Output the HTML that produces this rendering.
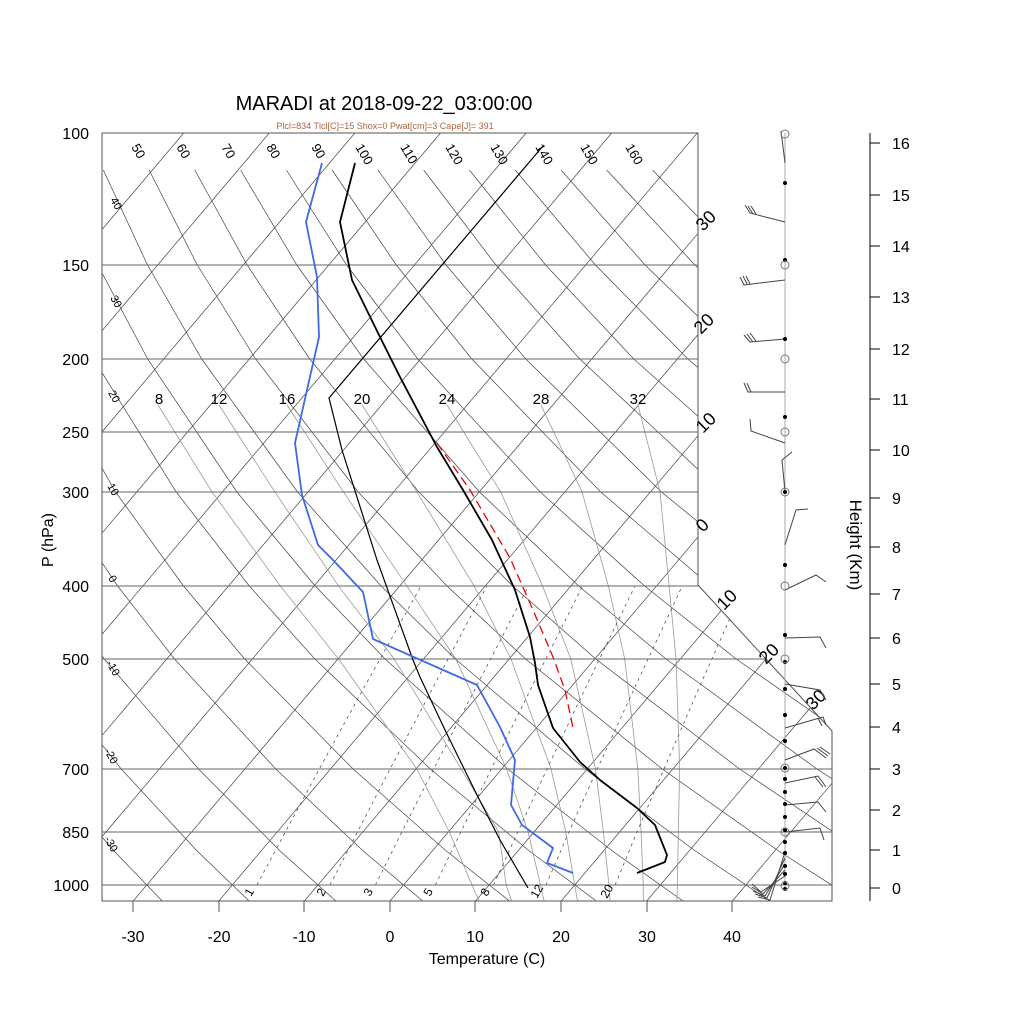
<!DOCTYPE html>
<html><head><meta charset="utf-8">
<style>
html,body{margin:0;padding:0;background:#fff;}
svg{display:block;font-family:"Liberation Sans",sans-serif;}
</style></head>
<body>
<svg width="1024" height="1024" viewBox="0 0 1024 1024" xmlns="http://www.w3.org/2000/svg">
<defs>
<clipPath id="cp"><path d="M102,133 L698,133 L698,585 L832,731 L832,901 L102,901 Z"/></clipPath>
</defs>
<rect width="1024" height="1024" fill="#fff"/>
<g clip-path="url(#cp)" fill="none">
<!-- isotherms -->
<path stroke="#444" stroke-width="0.7" d="M-979.6,901 L-329.9,133 M-894,901 L-244.3,133 M-808.4,901 L-158.7,133 M-722.8,901 L-73.1,133 M-637.2,901 L12.5,133 M-551.6,901 L98.1,133 M-466,901 L183.7,133 M-380.4,901 L269.3,133 M-294.8,901 L354.9,133 M-209.2,901 L440.5,133 M-123.6,901 L526.1,133 M-38,901 L611.7,133 M47.6,901 L697.3,133 M133.2,901 L782.9,133 M218.8,901 L868.5,133 M304.4,901 L954.1,133 M390,901 L1039.7,133 M475.6,901 L1125.3,133 M561.2,901 L1210.9,133 M646.8,901 L1296.5,133 M732.4,901 L1382.1,133"/>
<!-- dry adiabats -->
<path stroke="#444" stroke-width="0.7" d="
M162.3,901 L114,851 L43.9,769 L-36.1,659
M249.1,901 L197.1,851 L121.2,769 L34.1,659 L-14.1,586
M335.9,901 L280.1,851 L198.5,769 L104.3,659 L51.7,586 L-5.8,492
M422.7,901 L363.2,851 L275.8,769 L174.5,659 L117.6,586 L54.9,492 L-14.4,359
M509.5,901 L446.3,851 L353.1,769 L244.7,659 L183.5,586 L115.6,492 L39.6,359 L-1.7,265
M596.3,901 L529.3,851 L430.4,769 L314.9,659 L249.3,586 L176.2,492 L93.6,359 L48,265 L11.7,170
M683.1,901 L612.4,851 L507.7,769 L385.1,659 L315.2,586 L236.9,492 L147.7,359 L97.8,265 L57.5,170
M769.9,901 L695.4,851 L585,769 L455.3,659 L381.1,586 L297.5,492 L201.7,359 L147.5,265 L103.3,170
M856.7,901 L778.5,851 L662.3,769 L525.6,659 L447,586 L358.2,492 L255.7,359 L197.3,265 L149.1,170
M943.5,901 L861.6,851 L739.6,769 L595.8,659 L512.8,586 L418.9,492 L309.7,359 L247.1,265 L194.8,170
M944.6,851 L816.9,769 L666,659 L578.7,586 L479.5,492 L363.7,359 L296.8,265 L240.6,170
M1027.7,851 L894.2,769 L736.2,659 L644.6,586 L540.2,492 L417.8,359 L346.6,265 L286.4,170
M971.5,769 L806.4,659 L710.5,586 L600.8,492 L471.8,359 L396.3,265 L332.1,170
M1048.8,769 L876.6,659 L776.3,586 L661.5,492 L525.8,359 L446.1,265 L377.9,170
M1126.1,769 L946.8,659 L842.2,586 L722.2,492 L579.8,359 L495.9,265 L423.7,170
M1017,659 L908.1,586 L782.8,492 L633.8,359 L545.6,265 L469.4,170
M1087.2,659 L974,586 L843.5,492 L687.9,359 L595.4,265 L515.2,170
M1157.4,659 L1039.8,586 L904.1,492 L741.9,359 L645.1,265 L561,170
M1227.7,659 L1105.7,586 L964.8,492 L795.9,359 L694.9,265 L606.7,170
M1171.6,586 L1025.5,492 L849.9,359 L744.6,265 L652.5,170
M1086.1,492 L903.9,359 L794.4,265 L698.3,170"/>
<!-- moist adiabats -->
<path stroke="#999" stroke-width="0.8" d="
M479,901 L472,885 L449.4,832 L416.5,768.5 L338.3,658.6 L280.1,585.7 L212,491.8 L158,405
M511.6,901 L506.2,885 L498.7,832 L461,768.5 L393.9,658.6 L338.3,585.7 L274.8,491.8 L219,405
M544.1,901 L540.5,885 L528.1,832 L506.4,768.5 L455.6,658.6 L406.7,585.7 L343.4,491.8 L287,405
M577.5,901 L574.7,885 L565.8,832 L550.9,768.5 L510.8,658.6 L474,585.7 L416.8,491.8 L362,405
M610,901 L608.9,885 L603.4,832 L595.4,768.5 L570.7,658.6 L542.4,585.7 L500.7,491.8 L447,405
M643.4,901 L643.2,885 L641.1,832 L637.8,768.5 L624.6,658.6 L608.3,585.7 L582,491.8 L541,405
M676.8,901 L677.4,885 L678.3,832 L679.7,768.5 L676,658.6 L669.1,585.7 L660,491.8 L638,405"/>
<!-- mixing ratio -->
<path stroke="#555" stroke-width="0.8" stroke-dasharray="3,4" d="
M256.9,885 L285.3,832 L319.6,768.5 L362.8,689.7 L421.2,585.7
M330,885 L357.5,832 L390.3,768.5 L431.8,689.7 L487,585.7
M375.4,885 L401.9,832 L434,768.5 L474.7,689.7 L528.6,585.7
M435.3,885 L460.8,832 L491.5,768.5 L530.4,689.7 L582.7,585.7
M493.5,885 L517.8,832 L547.2,768.5 L584.6,689.7 L635.1,585.7
M546,885 L568.9,832 L597.5,768.5 L633.7,689.7 L682.4,585.7
M615.1,885 L637,832 L664.2,768.5 L698.2,689.7 L744.5,585.7"/>
</g>
<!-- pressure lines -->
<g stroke="#666" stroke-width="1">
<line x1="102" y1="265" x2="698" y2="265"/>
<line x1="102" y1="359" x2="698" y2="359"/>
<line x1="102" y1="432" x2="698" y2="432"/>
<line x1="102" y1="492" x2="698" y2="492"/>
<line x1="102" y1="586" x2="698" y2="586"/>
<line x1="102" y1="659" x2="766" y2="659"/>
<line x1="102" y1="769" x2="832" y2="769"/>
<line x1="102" y1="832" x2="832" y2="832"/>
<line x1="102" y1="885" x2="832" y2="885"/>
</g>
<path d="M102,133 L698,133 L698,585 L832,731 L832,901 L102,901 Z" fill="none" stroke="#555" stroke-width="1"/>
<g stroke="#555" stroke-width="1">
<line x1="133" y1="901" x2="133" y2="912"/><line x1="219" y1="901" x2="219" y2="912"/>
<line x1="304" y1="901" x2="304" y2="912"/><line x1="390" y1="901" x2="390" y2="912"/>
<line x1="475" y1="901" x2="475" y2="912"/><line x1="561" y1="901" x2="561" y2="912"/>
<line x1="647" y1="901" x2="647" y2="912"/><line x1="732" y1="901" x2="732" y2="912"/>
</g>
<!-- sounding -->
<g fill="none" stroke-linejoin="round">
<polyline stroke="#000" stroke-width="1.2" points="528,888 500,840 477,795 445,730 420,677 413,660 377,560 342,450 329,398 543,146"/>
<polyline stroke="#e00" stroke-width="1.3" stroke-dasharray="9,5" points="437,443 470,490 510,558 533,610 553,657 565,690 573,728"/>
<polyline stroke="#4169e1" stroke-width="1.8" points="322,163 306,222 317,277 319,337 295,443 302,495 318,545 333,560 363,592 373,639 477,685 500,727 515,760 511,805 522,825 553,848 547,863 573,873"/>
<polyline stroke="#000" stroke-width="1.8" points="355,163 340,222 352,280 380,337 400,377 437,447 463,490 492,540 515,590 530,637 535,663 538,685 553,728 580,762 600,780 637,808 655,825 667,855 665,862 637,873"/>
</g>
<text x="384" y="110" font-size="20" text-anchor="middle">MARADI at 2018-09-22_03:00:00</text>
<text x="385" y="129" font-size="9" fill="#b0643c" text-anchor="middle">Plcl=834 Tlcl[C]=15 Shox=0 Pwat[cm]=3 Cape[J]= 391</text>
<g font-size="16" text-anchor="end">
<text x="89" y="139">100</text><text x="89" y="271">150</text><text x="89" y="365">200</text>
<text x="89" y="438">250</text><text x="89" y="498">300</text><text x="89" y="592">400</text>
<text x="89" y="665">500</text><text x="89" y="775">700</text><text x="89" y="838">850</text>
<text x="89" y="891">1000</text>
</g>
<text transform="translate(53,540) rotate(-90)" font-size="16" text-anchor="middle">P (hPa)</text>
<g font-size="16" text-anchor="middle">
<text x="133" y="942">-30</text><text x="219" y="942">-20</text><text x="304" y="942">-10</text>
<text x="390" y="942">0</text><text x="475" y="942">10</text><text x="561" y="942">20</text>
<text x="647" y="942">30</text><text x="732" y="942">40</text>
</g>
<text x="487" y="964" font-size="16" text-anchor="middle">Temperature (C)</text>
<g font-size="13">
<text transform="translate(131,147) rotate(60)">50</text>
<text transform="translate(176,147) rotate(60)">60</text>
<text transform="translate(221,147) rotate(60)">70</text>
<text transform="translate(266,147) rotate(60)">80</text>
<text transform="translate(311,147) rotate(60)">90</text>
<text transform="translate(355,147) rotate(60)">100</text>
<text transform="translate(400,147) rotate(60)">110</text>
<text transform="translate(445,147) rotate(60)">120</text>
<text transform="translate(490,147) rotate(60)">130</text>
<text transform="translate(535,147) rotate(60)">140</text>
<text transform="translate(580,147) rotate(60)">150</text>
<text transform="translate(625,147) rotate(60)">160</text>
</g>
<g font-size="11">
<text transform="translate(110,200) rotate(60)">40</text>
<text transform="translate(110,298) rotate(60)">30</text>
<text transform="translate(108,393) rotate(60)">20</text>
<text transform="translate(107,486) rotate(60)">10</text>
<text transform="translate(108,578) rotate(60)">0</text>
<text transform="translate(106,663) rotate(60)">-10</text>
<text transform="translate(104,751) rotate(60)">-20</text>
<text transform="translate(104,839) rotate(60)">-30</text>
</g>
<g font-size="15" text-anchor="middle">
<text x="159" y="404">8</text><text x="219" y="404">12</text><text x="287" y="404">16</text>
<text x="362" y="404">20</text><text x="447" y="404">24</text><text x="541" y="404">28</text>
<text x="638" y="404">32</text>
</g>
<g font-size="18">
<text transform="translate(703,232) rotate(-45)">30</text>
<text transform="translate(701,335) rotate(-45)">20</text>
<text transform="translate(703,434) rotate(-45)">10</text>
<text transform="translate(703,533) rotate(-45)">0</text>
<text transform="translate(724,611) rotate(-45)">10</text>
<text transform="translate(766,665) rotate(-45)">20</text>
<text transform="translate(813,711) rotate(-45)">30</text>
</g>
<g font-size="12">
<text transform="translate(251,897) rotate(-60)">1</text>
<text transform="translate(323,897) rotate(-60)">2</text>
<text transform="translate(370,897) rotate(-60)">3</text>
<text transform="translate(430,897) rotate(-60)">5</text>
<text transform="translate(487,897) rotate(-60)">8</text>
<text transform="translate(537,899) rotate(-60)">12</text>
<text transform="translate(607,899) rotate(-60)">20</text>
</g>
<line x1="785" y1="133" x2="785" y2="890" stroke="#aaa" stroke-width="1"/>
<g stroke="#444" stroke-width="1" fill="none">
<path d="M781,131 L785,163"/>
<path d="M785,222 L750,213 L745,205 M753,214 L748,206 M756,214 L751,206"/>
<path d="M785,280 L744,285 L740,277 M747,284 L743,276 M750,284 L746,276"/>
<path d="M785,339 L750,342 L744,335 M753,342 L747,334 M756,341 L750,333"/>
<path d="M785,392 L748,392 L744,383 M751,392 L747,383"/>
<path d="M785,443 L751,431 L750,419"/>
<path d="M785,492 L782,460 L792,452"/>
<path d="M785,545 L796,510 L808,509"/>
<path d="M785,590 L816,575 L826,582"/>
<path d="M785,638 L820,637 L826,648"/>
<path d="M785,684 L820,690 L826,700"/>
<path d="M785,728 L823,717 L826,725 M818,718 L822,726"/>
<path d="M785,760 L814,749 L826,758 M817,748 L828,756 M820,747 L830,754"/>
<path d="M785,783 L818,776 L826,787 M815,777 L823,787"/>
<path d="M785,805 L818,802 L826,812"/>
<path d="M785,832 L820,828 L824,840"/>
<path d="M785,852 L770,900 L758,897 M785,858 L767,898 L755,894 M785,864 L765,896 L753,891 M785,870 L763,894 L752,887 M785,876 L761,892 L752,884"/>
</g>
<g fill="#000">
<circle cx="785" cy="183" r="2"/><circle cx="785" cy="260" r="2"/><circle cx="785" cy="339" r="2"/>
<circle cx="785" cy="417" r="2"/><circle cx="785" cy="492" r="2"/><circle cx="785" cy="565" r="2"/><circle cx="785" cy="635" r="2"/>
<circle cx="785" cy="662" r="2"/><circle cx="785" cy="689" r="2"/><circle cx="785" cy="715" r="2"/>
<circle cx="785" cy="741" r="2"/><circle cx="785" cy="768" r="2"/><circle cx="785" cy="779" r="2"/><circle cx="785" cy="792" r="2"/>
<circle cx="785" cy="804" r="2"/><circle cx="785" cy="817" r="2"/><circle cx="785" cy="830" r="2"/>
<circle cx="785" cy="842" r="2"/><circle cx="785" cy="853" r="2"/><circle cx="785" cy="866" r="2"/>
<circle cx="785" cy="874" r="2"/><circle cx="785" cy="883" r="2"/><circle cx="785" cy="889" r="2"/>
</g>
<g fill="none" stroke="#777" stroke-width="1">
<circle cx="785" cy="134" r="4"/><circle cx="785" cy="265" r="4"/><circle cx="785" cy="359" r="4"/>
<circle cx="785" cy="432" r="4"/><circle cx="785" cy="492" r="4"/><circle cx="785" cy="586" r="4"/>
<circle cx="785" cy="659" r="4"/><circle cx="785" cy="768" r="4"/><circle cx="785" cy="832" r="4"/>
<circle cx="785" cy="886" r="4"/>
</g>
<g stroke="#000" stroke-width="1">
<line x1="870" y1="133" x2="870" y2="901"/>
<line x1="870" y1="888" x2="880" y2="888"/><line x1="870" y1="850" x2="880" y2="850"/>
<line x1="870" y1="810" x2="880" y2="810"/><line x1="870" y1="769" x2="880" y2="769"/>
<line x1="870" y1="727" x2="880" y2="727"/><line x1="870" y1="684" x2="880" y2="684"/>
<line x1="870" y1="638" x2="880" y2="638"/><line x1="870" y1="594" x2="880" y2="594"/>
<line x1="870" y1="547" x2="880" y2="547"/><line x1="870" y1="498" x2="880" y2="498"/>
<line x1="870" y1="450" x2="880" y2="450"/><line x1="870" y1="399" x2="880" y2="399"/>
<line x1="870" y1="349" x2="880" y2="349"/><line x1="870" y1="297" x2="880" y2="297"/>
<line x1="870" y1="246" x2="880" y2="246"/><line x1="870" y1="195" x2="880" y2="195"/>
<line x1="870" y1="143" x2="880" y2="143"/>
</g>
<g font-size="16">
<text x="892" y="894">0</text><text x="892" y="856">1</text><text x="892" y="816">2</text>
<text x="892" y="775">3</text><text x="892" y="733">4</text><text x="892" y="690">5</text>
<text x="892" y="644">6</text><text x="892" y="600">7</text><text x="892" y="553">8</text>
<text x="892" y="504">9</text><text x="892" y="456">10</text><text x="892" y="405">11</text>
<text x="892" y="355">12</text><text x="892" y="303">13</text><text x="892" y="252">14</text>
<text x="892" y="201">15</text><text x="892" y="149">16</text>
</g>
<text transform="translate(850,545) rotate(90)" font-size="17" text-anchor="middle">Height (Km)</text>
</svg>
</body></html>
